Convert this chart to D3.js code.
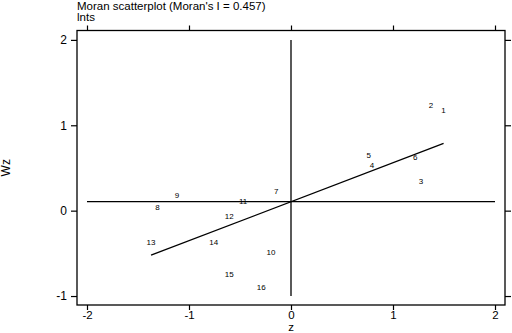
<!DOCTYPE html>
<html><head><meta charset="utf-8">
<script src="https://cdn.jsdelivr.net/npm/d3@7"></script>
<style>body{margin:0;background:#fff}svg{display:block}</style>
</head><body>
<script>
const ids = ["1","2","3","4","5","6","7","8","9","10","11","12","13","14","15","16"];
const zVals = [1.496,1.373,1.274,0.794,0.761,1.218,-0.144,-1.308,-1.118,-0.196,-0.470,-0.605,-1.372,-0.757,-0.605,-0.291];
const wzVals = [1.181,1.232,0.340,0.535,0.653,0.630,0.231,0.040,0.184,-0.481,0.114,-0.062,-0.371,-0.375,-0.745,-0.898];
const xTicks = [-2,-1,0,1,2];
const yTicks = [-1,0,1,2];
const moranI = 0.457;
const meanWz = 0.105;
const titleText = "Moran scatterplot (Moran's I = 0.457)";
const subTitle = "lnts";

const W = 512, H = 333;
const svg = d3.select("body").append("svg").attr("width", W).attr("height", H);
const mL = 77, mR = 505, mT = 30.5, mB = 305;
const x = d3.scaleLinear().domain([-2.098, 2.098]).range([mL, mR]);
const y = d3.scaleLinear().domain([-1.105, 2.11]).range([mB, mT]);
const font = "Liberation Sans, Arial, sans-serif";
const fmt = d => String(d);

// frame
svg.append("rect").attr("x", mL).attr("y", mT).attr("width", mR-mL).attr("height", mB-mT)
  .attr("fill", "none").attr("stroke", "#000").attr("stroke-width", 1.3);

// axes (ticks on all sides)
const ax = (g) => g.selectAll(".domain").remove();
svg.append("g").attr("transform", `translate(0,${mB})`)
  .call(d3.axisBottom(x).tickValues(xTicks).tickSize(5).tickPadding(1).tickFormat(fmt))
  .call(ax).call(g => g.selectAll("text").attr("font-size", 11.5).attr("font-family", font).attr("fill", "#000"))
  .call(g => g.selectAll("line").attr("stroke-width", 1.2));
svg.append("g").attr("transform", `translate(0,${mT})`)
  .call(d3.axisTop(x).tickValues(xTicks).tickSize(5).tickFormat(""))
  .call(ax).call(g => g.selectAll("line").attr("stroke-width", 1.2));
svg.append("g").attr("transform", `translate(${mL},0)`)
  .call(d3.axisLeft(y).tickValues(yTicks).tickSize(6).tickPadding(4).tickFormat(fmt))
  .call(ax).call(g => g.selectAll("text").attr("font-size", 12).attr("font-family", font).attr("fill", "#000"))
  .call(g => g.selectAll("line").attr("stroke-width", 1.2));
svg.append("g").attr("transform", `translate(${mR},0)`)
  .call(d3.axisRight(y).tickValues(yTicks).tickSize(6).tickFormat(""))
  .call(ax).call(g => g.selectAll("line").attr("stroke-width", 1.2));

// reference lines
svg.append("line").attr("x1", x(0)).attr("x2", x(0)).attr("y1", y(2)).attr("y2", y(-1))
  .attr("stroke", "#000").attr("stroke-width", 1.3);
svg.append("line").attr("x1", x(-2)).attr("x2", x(2)).attr("y1", y(meanWz)).attr("y2", y(meanWz))
  .attr("stroke", "#000").attr("stroke-width", 1.3);
// regression line
const zMin = d3.min(zVals), zMax = d3.max(zVals);
svg.append("line").attr("x1", x(zMin)).attr("x2", x(zMax))
  .attr("y1", y(meanWz + moranI*zMin)).attr("y2", y(meanWz + moranI*zMax))
  .attr("stroke", "#000").attr("stroke-width", 1.3);

// point labels
svg.append("g").selectAll("text").data(ids).join("text")
  .attr("x", (d,i) => x(zVals[i])).attr("y", (d,i) => y(wzVals[i]))
  .attr("text-anchor", "middle").attr("dy", "0.35em")
  .attr("font-size", 8).attr("font-family", font).attr("fill", "#000")
  .text(d => d);

// titles
svg.append("text").attr("x", mL).attr("y", 9.5).attr("font-size", 11.5).attr("font-family", font).text(titleText);
svg.append("text").attr("x", mL).attr("y", 21).attr("font-size", 11.5).attr("font-family", font).text(subTitle);
svg.append("text").attr("x", x(0)).attr("y", 330.5).attr("text-anchor", "middle")
  .attr("font-size", 11.5).attr("font-family", font).text("z");
svg.append("text").attr("transform", `translate(10,${(mT+mB)/2}) rotate(-90)`).attr("text-anchor", "middle")
  .attr("font-size", 12).attr("font-family", font).text("Wz");
</script>
</body></html>
